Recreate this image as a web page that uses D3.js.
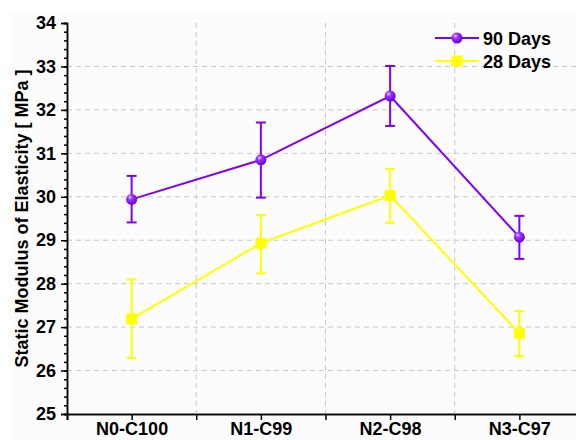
<!DOCTYPE html>
<html>
<head>
<meta charset="utf-8">
<script src="https://cdn.jsdelivr.net/npm/d3@7"></script>
<style>
  body { margin: 0; background: #fff; }
  svg { display: block; font-family: "Liberation Sans", Arial, sans-serif; }
</style>
</head>
<body>
<div id="chart"></div>
<script>
// Data
var categories = ["N0-C100", "N1-C99", "N2-C98", "N3-C97"];
var days90 = [29.94, 30.85, 32.32, 29.07];
var days90Up = [30.48, 31.71, 33.01, 29.56];
var days90Low = [29.41, 29.98, 31.63, 28.57];
var days28 = [27.19, 28.93, 30.03, 26.86];
var days28Up = [28.10, 29.58, 30.64, 27.37];
var days28Low = [26.29, 28.24, 29.40, 26.33];
var yTicks = [25, 26, 27, 28, 29, 30, 31, 32, 33, 34];

var svgWidth = 576;
var svgHeight = 440;

var margin = { top: 23, left: 67 };
var width = 517;
var height = 391;

var svg = d3.select("#chart")
    .append("svg")
    .attr("width", svgWidth)
    .attr("height", svgHeight);

// faint page background
svg.append("rect")
    .attr("x", 10).attr("y", 13)
    .attr("width", svgWidth).attr("height", svgHeight)
    .attr("fill", "#fcfcfc");

var defs = svg.append("defs");
var grad = defs.append("radialGradient")
    .attr("id", "sphere")
    .attr("cx", "0.4").attr("cy", "0.35").attr("r", "0.65")
    .attr("fx", "0.35").attr("fy", "0.3");
grad.append("stop").attr("offset", "0%").attr("stop-color", "#e6ccff");
grad.append("stop").attr("offset", "35%").attr("stop-color", "#9a33ff");
grad.append("stop").attr("offset", "100%").attr("stop-color", "#6a00d8");

var chartGroup = svg.append("g")
    .attr("transform", `translate(${margin.left}, ${margin.top})`);

var x = d3.scaleLinear().domain([0.5, 4.5]).range([0, width]);
var y = d3.scaleLinear().domain([25, 34]).range([height, 0]);

// grid lines
chartGroup.append("g").selectAll("line")
    .data(yTicks.slice(1, -1))
    .enter().append("line")
    .attr("x1", 0).attr("x2", width)
    .attr("y1", d => y(d)).attr("y2", d => y(d))
    .attr("stroke", "#c8c8c8").attr("stroke-width", 1)
    .attr("stroke-dasharray", "5,4");

chartGroup.append("g").selectAll("line")
    .data([1.5, 2.5, 3.5])
    .enter().append("line")
    .attr("x1", d => x(d)).attr("x2", d => x(d))
    .attr("y1", 0).attr("y2", height)
    .attr("stroke", "#c8c8c8").attr("stroke-width", 1)
    .attr("stroke-dasharray", "5,4");

// axes
var minorY = d3.range(25, 34.01, 0.2).map(d => +d.toFixed(1));
chartGroup.append("g")
    .attr("class", "axis")
    .call(d3.axisLeft(y).tickValues(minorY).tickSize(3).tickFormat(""));

chartGroup.append("g")
    .attr("class", "axis")
    .call(d3.axisLeft(y).tickValues(yTicks).tickSize(6).tickPadding(5).tickFormat(d3.format("d")));

chartGroup.append("g")
    .attr("class", "axis")
    .attr("transform", `translate(0, ${height})`)
    .call(d3.axisBottom(x).tickValues([0.5, 1.5, 2.5, 3.5, 4.5]).tickSize(6).tickFormat(""));

chartGroup.append("g")
    .attr("class", "axis")
    .attr("transform", `translate(0, ${height})`)
    .call(d3.axisBottom(x).tickValues([1, 2, 3, 4]).tickSize(6).tickPadding(2)
        .tickFormat((d, i) => categories[i]));

chartGroup.selectAll(".axis path, .axis line")
    .attr("stroke", "#000").attr("stroke-width", 1.5);
chartGroup.selectAll(".axis text")
    .attr("fill", "#000")
    .attr("font-size", "18px")
    .attr("font-weight", "bold")
    .attr("font-family", "Liberation Sans, Arial, sans-serif");

// series
function drawSeries(values, up, low, color, marker) {
    var pts = values.map((v, i) => ({ i: i + 1, v: v, up: up[i], low: low[i] }));
    var line = d3.line().x(d => x(d.i)).y(d => y(d.v));
    var g = chartGroup.append("g");

    g.append("path")
        .datum(pts)
        .attr("d", line)
        .attr("fill", "none")
        .attr("stroke", color)
        .attr("stroke-width", 2);

    var eb = g.selectAll(".eb").data(pts).enter().append("g");
    eb.append("line")
        .attr("x1", d => x(d.i)).attr("x2", d => x(d.i))
        .attr("y1", d => y(d.up)).attr("y2", d => y(d.low))
        .attr("stroke", color).attr("stroke-width", 2);
    eb.append("line")
        .attr("x1", d => x(d.i) - 5).attr("x2", d => x(d.i) + 5)
        .attr("y1", d => y(d.up)).attr("y2", d => y(d.up))
        .attr("stroke", color).attr("stroke-width", 2);
    eb.append("line")
        .attr("x1", d => x(d.i) - 5).attr("x2", d => x(d.i) + 5)
        .attr("y1", d => y(d.low)).attr("y2", d => y(d.low))
        .attr("stroke", color).attr("stroke-width", 2);

    if (marker === "circle") {
        g.selectAll("circle").data(pts).enter().append("circle")
            .attr("cx", d => x(d.i)).attr("cy", d => y(d.v))
            .attr("r", 5.5)
            .attr("fill", "url(#sphere)");
    } else {
        g.selectAll("rect.m").data(pts).enter().append("rect")
            .attr("class", "m")
            .attr("x", d => x(d.i) - 5.5).attr("y", d => y(d.v) - 5.5)
            .attr("width", 11).attr("height", 11)
            .attr("fill", color);
    }
}

drawSeries(days28, days28Up, days28Low, "#ffff00", "square");
drawSeries(days90, days90Up, days90Low, "#8000ff", "circle");

// legend
var legend = svg.append("g");
var legendItems = [
    { label: "90 Days", color: "#8000ff", marker: "circle", y: 38 },
    { label: "28 Days", color: "#ffff00", marker: "square", y: 61 }
];
legendItems.forEach(item => {
    legend.append("line")
        .attr("x1", 435).attr("x2", 479)
        .attr("y1", item.y).attr("y2", item.y)
        .attr("stroke", item.color).attr("stroke-width", 2);
    if (item.marker === "circle") {
        legend.append("circle")
            .attr("cx", 457).attr("cy", item.y).attr("r", 5.5)
            .attr("fill", "url(#sphere)");
    } else {
        legend.append("rect")
            .attr("x", 451.5).attr("y", item.y - 5.5)
            .attr("width", 11).attr("height", 11)
            .attr("fill", item.color);
    }
    legend.append("text")
        .attr("x", 483).attr("y", item.y + 7)
        .attr("font-size", "18px")
        .attr("font-weight", "bold")
        .attr("fill", "#000")
        .text(item.label);
});

// y axis title
svg.append("text")
    .attr("transform", `translate(28, ${margin.top + height / 2}) rotate(-90)`)
    .attr("text-anchor", "middle")
    .attr("font-size", "18px")
    .attr("font-weight", "bold")
    .attr("fill", "#000")
    .text("Static Modulus of Elasticity [ MPa ]");
</script>
</body>
</html>
